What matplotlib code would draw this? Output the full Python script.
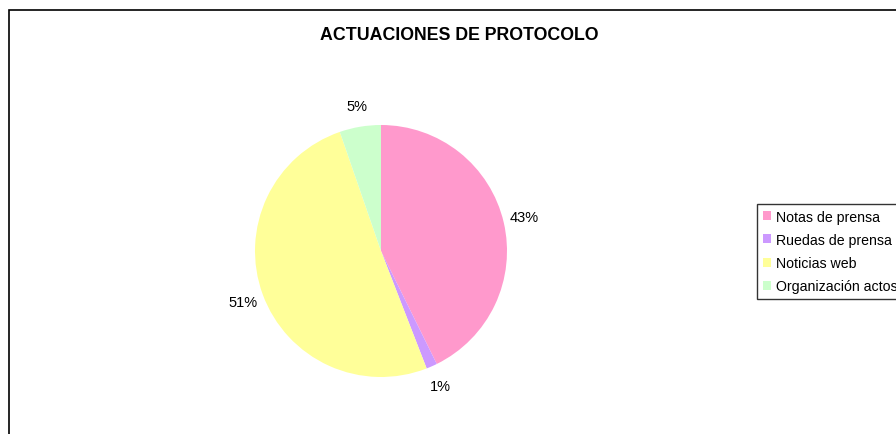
import matplotlib.pyplot as plt
from matplotlib.patches import Patch, Rectangle

plt.rcParams['font.family'] = ['Liberation Sans', 'DejaVu Sans']

categories = ['Notas de prensa', 'Ruedas de prensa', 'Noticias web', 'Organización actos']
values = [42.7, 1.4, 50.6, 5.3]
colors = ['#FF99CC', '#CC99FF', '#FFFF99', '#CCFFCC']

W, H = 896, 435
fig = plt.figure(figsize=(W / 100, H / 100), dpi=100)

# outer chart frame (runs off right and bottom edges)
fig.patches.append(Rectangle((9 / W, -0.1), 1.2, (H - 11) / H + 0.1,
                             transform=fig.transFigure, fill=False,
                             edgecolor='black', linewidth=1.2))

fig.text(459 / W, (H - 35) / H, 'ACTUACIONES DE PROTOCOLO', ha='center', va='center',
         fontsize=12.8, fontweight='bold')

# pie centred at (381, 252), radius 126 px
cx, cy, r = 381, 252, 126
ax = fig.add_axes([(cx - r) / W, (H - cy - r) / H, 2 * r / W, 2 * r / H])
wedges, texts, autotexts = ax.pie(values, colors=colors, startangle=90, counterclock=False,
                                  autopct='%1.0f%%', pctdistance=1.17,
                                  wedgeprops=dict(linewidth=0))
for t in autotexts:
    t.set_fontsize(10.5)
ax.set_xlim(-1, 1)
ax.set_ylim(-1, 1)
ax.set_aspect('equal')

handles = [Patch(facecolor=c, edgecolor='none') for c in colors]
leg = fig.legend(handles, categories, loc='upper left',
                 bbox_to_anchor=(757 / W, (H - 205) / H), fontsize=10.2,
                 frameon=True, fancybox=False, handlelength=0.6, handleheight=0.6,
                 handletextpad=0.35, labelspacing=0.65, borderpad=0.4, borderaxespad=0)
leg.get_frame().set_edgecolor('black')
leg.get_frame().set_linewidth(1.0)

fig.savefig('out.png', dpi=100)
